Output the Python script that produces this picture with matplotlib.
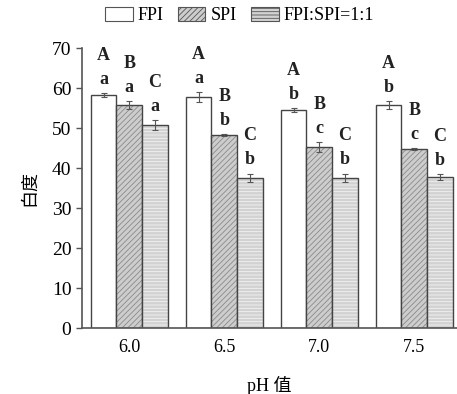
import matplotlib
matplotlib.use("Agg")
import matplotlib.pyplot as plt
from matplotlib.patches import Patch
import numpy as np

plt.rcParams['hatch.linewidth'] = 0.6
plt.rcParams['font.family'] = ['Liberation Serif', 'Noto Sans CJK SC']

ph_labels = ['6.0', '6.5', '7.0', '7.5']
series = ['FPI', 'SPI', 'FPI:SPI=1:1']
fpi = [58.2, 57.8, 54.5, 55.8]
spi = [55.8, 48.2, 45.2, 44.8]
mix = [50.7, 37.6, 37.6, 37.8]
fpi_err = [0.5, 1.2, 0.4, 1.0]
spi_err = [1.0, 0.3, 1.2, 0.2]
mix_err = [1.2, 1.0, 1.0, 0.7]
lower = [['a', 'a', 'a'], ['a', 'b', 'b'], ['b', 'c', 'b'], ['b', 'c', 'b']]
upper = [['A', 'B', 'C'], ['A', 'B', 'C'], ['A', 'B', 'C'], ['A', 'B', 'C']]

fig = plt.figure(figsize=(4.57, 3.94), dpi=100)
ax = fig.add_axes([0.179, 0.1675, 0.821, 0.7105])

x = np.arange(len(ph_labels))
w = 0.27
fills = ['white', '#cdcdcd', '#d2d2d2']
hatches = [None, '//////', '-----']
hatch_cols = ['white', '#8a8a8a', '#f2f2f2']
vals = [fpi, spi, mix]
errs = [fpi_err, spi_err, mix_err]
edge = '#444444'
handles = []
for i in range(3):
    pos = x + (i - 1) * w
    ax.bar(pos, vals[i], w, color=fills[i], hatch=hatches[i],
           edgecolor=hatch_cols[i], linewidth=0)
    ax.bar(pos, vals[i], w, fill=False, edgecolor=edge, linewidth=1.0)
    ax.errorbar(pos, vals[i], yerr=errs[i], fmt='none', ecolor='#555555',
                elinewidth=0.8, capsize=2.5, capthick=0.8)
    handles.append(Patch(facecolor=fills[i], edgecolor='#555555', linewidth=0.8,
                         hatch=hatches[i], label=series[i]))
    for j in range(len(x)):
        top = vals[i][j] + errs[i][j]
        ax.text(pos[j], top + 1.3, lower[j][i], ha='center', va='bottom',
                fontsize=13, fontweight='bold', color='#222222')
        ax.text(pos[j], top + 7.3, upper[j][i], ha='center', va='bottom',
                fontsize=13, fontweight='bold', color='#222222')

ax.set_xlim(-0.5, 3.45)
ax.set_ylim(0, 70)
ax.set_yticks(range(0, 71, 10))
ax.set_xticks(x)
ax.set_xticklabels(ph_labels)
ax.tick_params(axis='x', length=0, labelsize=13, pad=8)
ax.tick_params(axis='y', length=4, labelsize=14, width=1, color='#555555')
for s in ['top', 'right']:
    ax.spines[s].set_visible(False)
for s in ['left', 'bottom']:
    ax.spines[s].set_color('#555555')
    ax.spines[s].set_linewidth(1.2)

ax.set_xlabel('pH 值', fontsize=13, labelpad=14)
ax.set_ylabel('白度', fontsize=13, labelpad=10)

fig.legend(handles=handles, loc='upper center', bbox_to_anchor=(0.525, 1.0),
           ncol=3, frameon=False, fontsize=13, handlelength=1.5,
           handleheight=0.8, handletextpad=0.3, columnspacing=0.8,
           borderaxespad=0.0)

fig.savefig('out.png', dpi=100)
